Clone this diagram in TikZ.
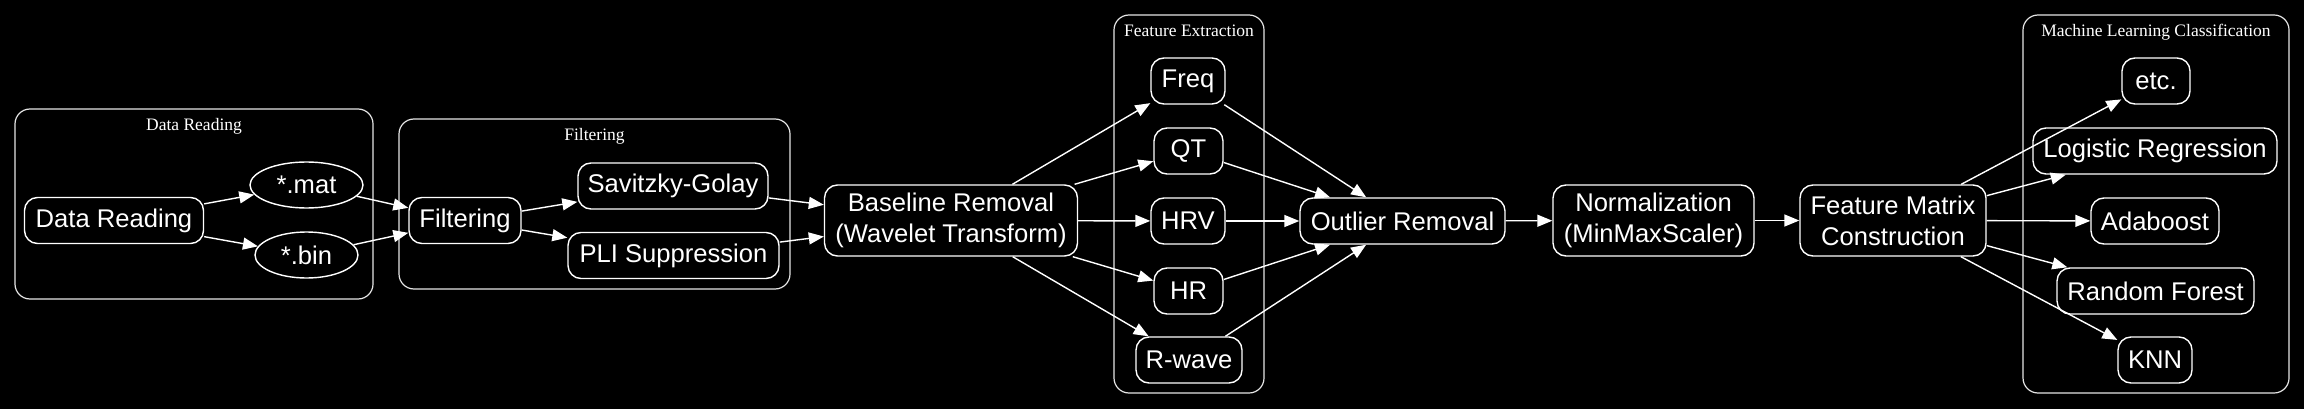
\documentclass[tikz,border=0pt]{standalone}
\usepackage{fontspec}
\setmainfont{Liberation Sans}
\newfontfamily\clusterfont{Liberation Serif}
\usetikzlibrary{shapes.geometric,arrows.meta}
\begin{document}
\begin{tikzpicture}[x=1pt,y=-1pt,
  box/.style={draw=white,line width=1.4pt,rounded corners=13pt,inner sep=0pt,
    text=white,align=center,font=\fontsize{25.6}{30.7}\selectfont,minimum height=46pt},
  oval/.style={draw=white,line width=1.4pt,ellipse,inner sep=0pt,text=white,
    font=\fontsize{25.6}{30.7}\selectfont,minimum height=46pt},
  cluster/.style={draw=white!90!black,line width=1.2pt,rounded corners=15pt},
  clabel/.style={text=white,anchor=base,inner sep=0pt,font=\clusterfont\fontsize{17.5}{20}\selectfont},
  edge/.style={draw=white,line width=1.4pt,-{Triangle[length=15pt,width=12pt]}}]
\fill[black] (0,0) rectangle (2304,409);
\useasboundingbox (0,0) rectangle (2304,409);
% clusters
\draw[cluster] (15,109) rectangle (373,299);
\node[clabel] (l1) at (194,131) {Data Reading};
\draw[cluster] (399,119) rectangle (790,289);
\node[clabel] (l2) at (594.5,141) {Filtering};
\draw[cluster] (1114,15) rectangle (1264,393);
\node[clabel] (l3) at (1189,37) {Feature Extraction};
\draw[cluster] (2023,15) rectangle (2289,393);
\node[clabel] (l4) at (2156,37) {Machine Learning Classification};
% nodes
\node[box,minimum width=179pt] (dr) at (114,220.5) {Data Reading};
\node[oval,minimum width=113pt] (mat) at (306.5,185) {*.mat};
\node[oval,minimum width=103pt] (bin) at (306.5,255) {*.bin};
\node[box,minimum width=112pt] (filt) at (465,220.5) {Filtering};
\node[box,minimum width=190pt] (sg) at (673,186) {Savitzky-Golay};
\node[box,minimum width=211pt] (pli) at (673.5,255.5) {PLI Suppression};
\node[box,minimum width=253pt,minimum height=71pt] (base) at (951,220.5) {Baseline Removal\\(Wavelet Transform)};
\node[box,minimum width=74pt] (freq) at (1188,81) {Freq};
\node[box,minimum width=69pt] (qt) at (1188.5,151) {QT};
\node[box,minimum width=74pt] (hrv) at (1188,221) {HRV};
\node[box,minimum width=69pt] (hr) at (1188.5,291) {HR};
\node[box,minimum width=106pt] (rw) at (1189,360) {R-wave};
\node[box,minimum width=205pt] (outl) at (1402.5,221) {Outlier Removal};
\node[box,minimum width=201pt,minimum height=71pt] (norm) at (1653.5,220.5) {Normalization\\(MinMaxScaler)};
\node[box,minimum width=186pt,minimum height=71pt] (fm) at (1893,220.5) {Feature Matrix\\Construction};
\node[box,minimum width=68pt] (etc) at (2156,81) {etc.};
\node[box,minimum width=244pt] (lr) at (2155,151) {Logistic Regression};
\node[box,minimum width=128pt] (ada) at (2155,221) {Adaboost};
\node[box,minimum width=197pt] (rf) at (2155.5,291) {Random Forest};
\node[box,minimum width=74pt] (knn) at (2155,360) {KNN};
% edges
\draw[edge] (dr) -- (mat);
\draw[edge] (dr) -- (bin);
\draw[edge] (mat) -- (filt);
\draw[edge] (bin) -- (filt);
\draw[edge] (filt) -- (sg);
\draw[edge] (filt) -- (pli);
\draw[edge] (sg) -- (base);
\draw[edge] (pli) -- (base);
\foreach \n in {freq,qt,hrv,hr,rw}{
  \draw[edge] (base) -- (\n);
  \draw[edge] (\n) -- (outl);
}
\draw[edge] (outl) -- (norm);
\draw[edge] (norm) -- (fm);
\foreach \n in {etc,lr,ada,rf,knn}{
  \draw[edge] (fm) -- (\n);
}
\end{tikzpicture}
\end{document}
